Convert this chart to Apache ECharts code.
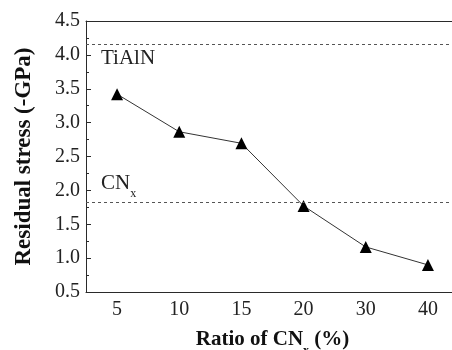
<!DOCTYPE html>
<html><head><meta charset="utf-8">
<script src="https://cdn.jsdelivr.net/npm/echarts@6/dist/echarts.min.js"></script>
<style>html,body{margin:0;padding:0;background:#fff}#c{width:452px;height:350px}</style>
</head><body><div id="c"></div>
<script>
const categories = ['5', '10', '15', '20', '30', '40'];
const stress = [3.42, 2.865, 2.695, 1.77, 1.165, 0.90];
const refTiAlN = 4.16;
const refCNx = 1.835;
const yTicks = {min: 0.5, max: 4.5, interval: 0.5};

const F = 'Liberation Serif';
const lineCol = '#2a2a2a';
const chart = echarts.init(document.getElementById('c'));
const baseX = {type: 'category', data: categories, boundaryGap: true};
chart.setOption({
  animation: false,
  textStyle: {fontFamily: F},
  grid: {left: 86, right: -7, top: 21, bottom: 58, containLabel: false, outerBoundsMode: 'none'},
  xAxis: [
    Object.assign({}, baseX, {
      position: 'bottom',
      name: 'Ratio of CN{s|x} (%)', nameLocation: 'middle', nameGap: 31,
      nameTextStyle: {fontFamily: F, fontWeight: 'bold', fontSize: 21, color: '#111', verticalAlign: 'top',
        rich: {s: {fontFamily: F, fontWeight: 'bold', fontSize: 12, color: '#111', padding: [22, 0, 0, 0]}}},
      axisLine: {lineStyle: {color: lineCol, width: 1}},
      axisTick: {inside: true, alignWithLabel: true, length: 5, lineStyle: {color: lineCol}},
      axisLabel: {fontFamily: F, fontSize: 20, color: '#222', margin: 8},
      splitLine: {show: false}
    }),
    Object.assign({}, baseX, {
      position: 'bottom',
      axisLine: {show: false},
      axisTick: {inside: true, alignWithLabel: false, length: 3, lineStyle: {color: lineCol}},
      axisLabel: {show: false}, splitLine: {show: false}
    }),
    Object.assign({}, baseX, {
      position: 'top',
      axisLine: {lineStyle: {color: lineCol, width: 1}},
      axisTick: {inside: true, alignWithLabel: true, length: 5, lineStyle: {color: lineCol}},
      axisLabel: {show: false}, splitLine: {show: false}
    }),
    Object.assign({}, baseX, {
      position: 'top',
      axisLine: {show: false},
      axisTick: {inside: true, alignWithLabel: false, length: 3, lineStyle: {color: lineCol}},
      axisLabel: {show: false}, splitLine: {show: false}
    })
  ],
  yAxis: [{
    type: 'value', min: yTicks.min, max: yTicks.max, interval: yTicks.interval,
    name: 'Residual stress (-GPa)', nameLocation: 'middle', nameGap: 50, nameRotate: 90,
    nameTextStyle: {fontFamily: F, fontWeight: 'bold', fontSize: 23, color: '#111'},
    axisLine: {show: true, lineStyle: {color: lineCol, width: 1}},
    axisTick: {show: true, inside: true, length: 5, lineStyle: {color: lineCol}},
    minorTick: {show: true, splitNumber: 2, length: 3, lineStyle: {color: lineCol}},
    axisLabel: {fontFamily: F, fontSize: 20, color: '#222', margin: 6, formatter: v => v.toFixed(1)},
    splitLine: {show: false}
  }],
  series: [{
    type: 'line', data: stress, xAxisIndex: 0, yAxisIndex: 0,
    symbol: 'triangle', symbolSize: 12,
    itemStyle: {color: '#000'},
    lineStyle: {color: '#333', width: 1},
    markLine: {
      silent: true, symbol: 'none',
      lineStyle: {type: [3, 3], color: '#555', width: 1},
      label: {show: true, fontFamily: F, fontSize: 21, color: '#222',
        rich: {s: {fontFamily: F, fontSize: 12, color: '#222', padding: [20, 0, 0, 0]}}},
      data: [
        {yAxis: refTiAlN, label: {formatter: 'TiAlN', position: 'insideStartBottom', distance: [15, 4]}},
        {yAxis: refCNx, label: {formatter: 'CN{s|x}', position: 'insideStartTop', distance: [15, 2]}}
      ]
    }
  }]
});
</script></body></html>
